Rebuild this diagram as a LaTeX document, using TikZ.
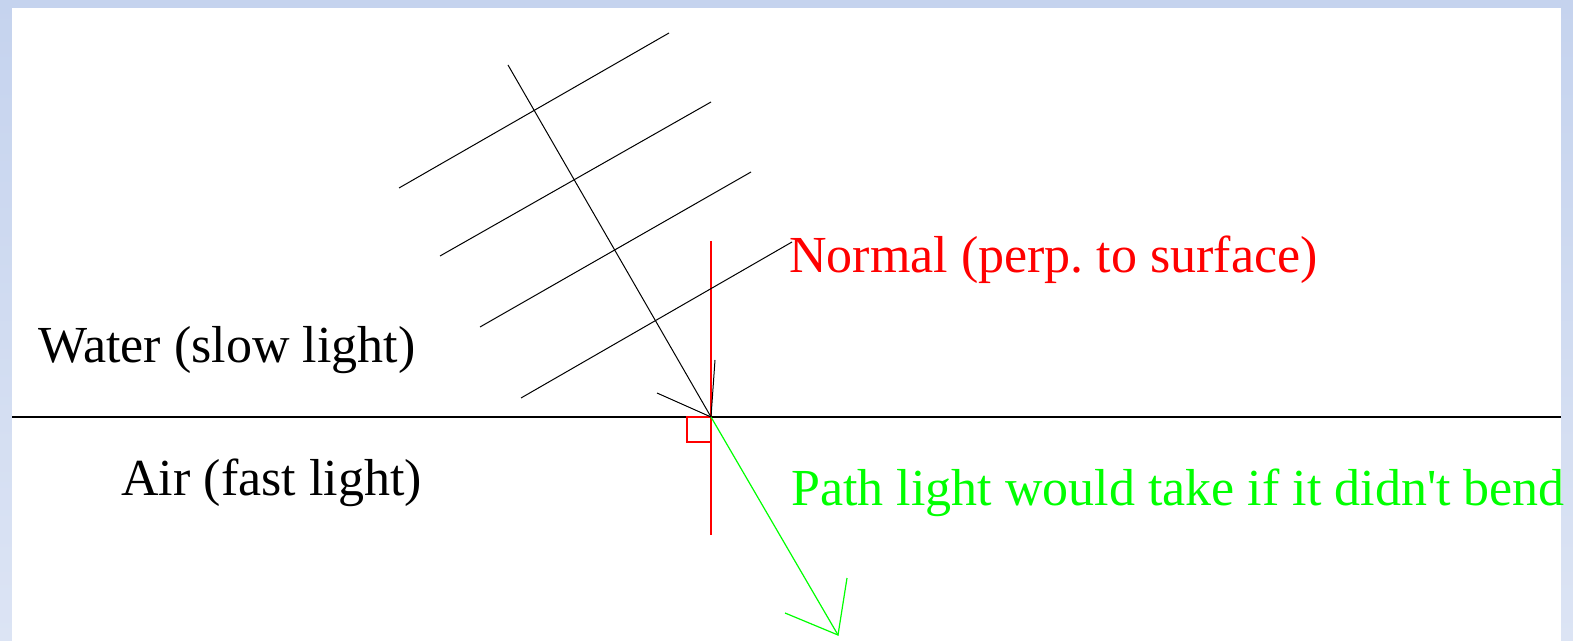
\documentclass[tikz,border=0pt]{standalone}
\usepackage{fontspec}
\setmainfont{Liberation Serif}
\usetikzlibrary{positioning,calc}

\definecolor{framecol}{HTML}{C5D3EE}
\definecolor{framelow}{HTML}{DCE4F4}
\definecolor{normalred}{HTML}{FF0000}
\definecolor{pathgreen}{HTML}{00FF00}

\tikzset{
  label text/.style={inner sep=0pt, anchor=base west, font=\fontsize{26}{31}\selectfont},
  wave/.style={draw=black, line width=0.5pt},
  ray/.style={draw=black, line width=0.5pt},
}

\begin{document}
\frenchspacing
\begin{tikzpicture}[x=0.5pt, y=-0.5pt]
  \useasboundingbox (0,0) rectangle (1573,641);
  % frame and page
  \shade[top color=framecol, bottom color=framelow] (0,0) rectangle (1573,641);
  \fill[white] (12,8) rectangle (1561,641);

  % surface
  \coordinate (sl) at (12,417);
  \coordinate (sr) at (1561,417);
  \coordinate (hit) at (711,417);
  \draw[line width=1pt] (sl) -- (sr);

  % normal with right-angle mark
  \coordinate (ntop) at (711,241);
  \coordinate (nbot) at (711,535);
  \draw[normalred, line width=0.6pt] (ntop) -- (nbot);
  \draw[normalred, line width=0.6pt] (hit) -| (687,442) -| (hit);

  % wavefronts
  \coordinate (w1a) at (399,188); \coordinate (w1b) at (669,33);
  \coordinate (w2a) at (440,256); \coordinate (w2b) at (711,102);
  \coordinate (w3a) at (480,327); \coordinate (w3b) at (751,172);
  \coordinate (w4a) at (521,398); \coordinate (w4b) at (792,242);
  \foreach \i in {1,...,4}
    \draw[wave] (w\i a) -- (w\i b);

  % incident ray, drawn head
  \coordinate (rstart) at (508,65);
  \draw[ray] (rstart) -- (hit);
  \draw[ray] (657,393) -- (hit) -- (715,360);

  % path without bending
  \coordinate (gtip) at (838,635);
  \draw[pathgreen, line width=0.6pt] (hit) -- (gtip);
  \draw[pathgreen, line width=0.6pt] (785,613) -- (gtip) -- (847,578);

  % labels
  \node[label text, text=normalred] (normal) at (789,273) {Normal (perp. to surface)};
  \node[label text] (water) at (38,363) {Water (slow light)};
  \node[label text] (air) at (121,495) {Air (fast light)};
  \node[label text, text=pathgreen] (path) at (791,505) {Path light would take if it didn\textquotesingle t bend};
\end{tikzpicture}
\end{document}
